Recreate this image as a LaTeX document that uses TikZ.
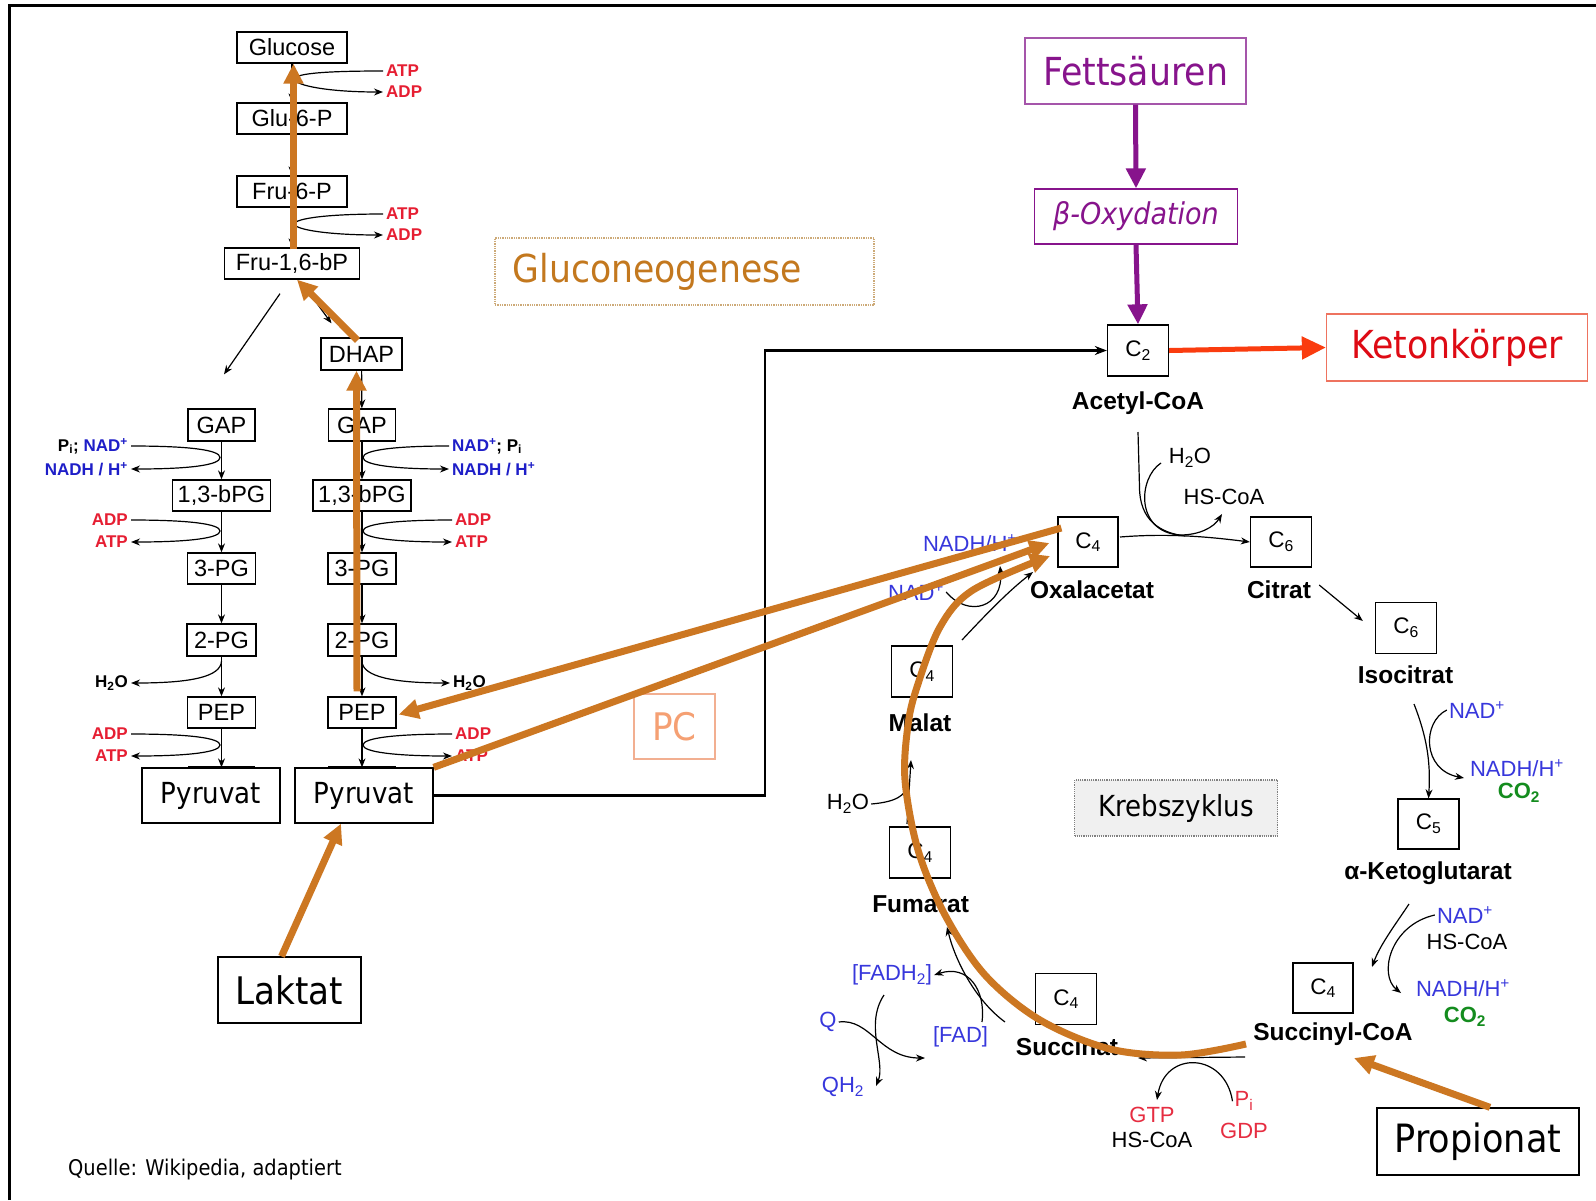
\documentclass[tikz,border=0pt]{standalone}
\usepackage{fontspec}
\setmainfont{Liberation Sans}
\newfontfamily\tah[FakeStretch=0.9]{DejaVu Sans}
\usetikzlibrary{arrows.meta,calc}
\definecolor{orng}{RGB}{204,119,34}
\definecolor{purp}{RGB}{135,20,140}
\definecolor{purpb}{RGB}{165,85,170}
\definecolor{ketred}{RGB}{222,10,20}
\definecolor{ketbord}{RGB}{238,115,95}
\definecolor{ketarr}{RGB}{250,60,15}
\definecolor{glyred}{RGB}{230,30,50}
\definecolor{glyblue}{RGB}{30,30,200}
\definecolor{krblue}{RGB}{55,55,220}
\definecolor{krgreen}{RGB}{20,140,30}
\definecolor{krred}{RGB}{230,45,65}
\definecolor{gngtext}{RGB}{195,120,30}
\definecolor{gngbord}{RGB}{205,170,120}
\definecolor{pctext}{RGB}{245,160,115}
\definecolor{pcbord}{RGB}{242,175,145}
\tikzset{
 gbox/.style={draw, line width=1.3pt, inner sep=0pt, font=\fontsize{23.5}{26}\selectfont},
 cbox/.style={draw, line width=1.3pt, inner sep=0pt, minimum width=61pt, minimum height=51pt, font=\fontsize{22.5}{24}\selectfont},
 bigbox/.style={draw, line width=1.3pt, inner sep=0pt},
 flow/.style={-{Stealth[length=9pt,width=7pt]}, line width=1.2pt},
 oarr/.style={orng, line width=7pt, -{Triangle[length=20pt,width=19pt]}},
 parr/.style={purp, line width=5pt, -{Triangle[length=20pt,width=19pt]}},
 gl/.style={font=\fontsize{17}{19}\selectfont\bfseries, inner sep=3pt},
 kl/.style={font=\fontsize{22}{24}\selectfont, inner sep=2pt},
 kn/.style={font=\fontsize{24.5}{27}\selectfont\bfseries, inner sep=0pt},
}
\begin{document}
\begin{tikzpicture}[x=1pt,y=-1pt]
\useasboundingbox (0,0) rectangle (1596,1200);
\fill[white] (0,0) rectangle (1596,1200);
\draw[line width=3pt] (9,1200) -- (9,5) -- (1596,5);

% ---------- glycolysis boxes ----------
\node[gbox, minimum width=110pt, minimum height=31pt] (glc) at (292,47.5) {Glucose};
\node[gbox, minimum width=110pt, minimum height=31pt] (g6p) at (292,118.5) {Glu-6-P};
\node[gbox, minimum width=110pt, minimum height=31pt] (f6p) at (292,191.5) {Fru-6-P};
\node[gbox, minimum width=135pt, minimum height=31pt] (fbp) at (292,263.5) {Fru-1,6-bP};
\node[gbox, minimum width=81pt, minimum height=32pt] (dhap) at (361.5,354) {DHAP};
\node[gbox, minimum width=67pt, minimum height=32pt] (gapL) at (221.5,425) {GAP};
\node[gbox, minimum width=67pt, minimum height=32pt] (gapR) at (362,425) {GAP};
\node[gbox, minimum width=98pt, minimum height=31pt] (bpgL) at (221.5,495.5) {1,3-bPG};
\node[gbox, minimum width=98pt, minimum height=31pt] (bpgR) at (362,495.5) {1,3-bPG};
\node[gbox, minimum width=68pt, minimum height=31pt] (pg3L) at (221.5,568.5) {3-PG};
\node[gbox, minimum width=68pt, minimum height=31pt] (pg3R) at (362,568.5) {3-PG};
\node[gbox, minimum width=69pt, minimum height=32pt] (pg2L) at (221.5,640) {2-PG};
\node[gbox, minimum width=68pt, minimum height=32pt] (pg2R) at (362,640) {2-PG};
\node[gbox, minimum width=68pt, minimum height=31pt] (pepL) at (221.5,712.5) {PEP};
\node[gbox, minimum width=68pt, minimum height=31pt] (pepR) at (362,712.5) {PEP};
\node[bigbox, minimum width=138pt, minimum height=55pt, font=\tah\fontsize{29}{32}\selectfont] (pyrL) at (211,795.5) {Pyruvat};
\node[bigbox, minimum width=138pt, minimum height=55pt, font=\tah\fontsize{29}{32}\selectfont] (pyrR) at (364,795.5) {Pyruvat};
\draw[line width=3pt] ($(pyrL.north)+(-23,0)$) -- ++(67,0);
\draw[line width=3pt] ($(pyrR.north)+(-36,0)$) -- ++(68,0);

\foreach \a/\b in {glc/g6p, g6p/f6p, f6p/fbp, dhap/gapR, gapL/bpgL, bpgL/pg3L, pg3L/pg2L, pg2L/pepL, gapR/bpgR, bpgR/pg3R, pg3R/pg2R, pg2R/pepR}
  \draw[flow] (\a) -- (\b);
\draw[flow] (pepL.south) -- (pepL.south |- pyrL.north);
\draw[flow] (pepR.south) -- (pepR.south |- pyrR.north);
\draw[flow] ($(fbp.south)+(-12,14)$) -- ($(gapL.north)+(2.5,-34)$);
\draw[flow] ($(fbp.south)+(12,6)$) -- ($(dhap.north)+(-30,-14)$);

% side reactions top
\node[gl, text=glyred, anchor=west] (atp1) at (383,71) {ATP};
\node[gl, text=glyred, anchor=west] (adp1) at (383,92) {ADP};
\node[gl, text=glyred, anchor=west] (atp2) at (383,214) {ATP};
\node[gl, text=glyred, anchor=west] (adp2) at (383,235) {ADP};
\draw[flow] (atp1.west) .. controls (330,71) and (296,73) .. (294,79) .. controls (296,86) and (330,92) .. (adp1.west);
\draw[flow] (atp2.west) .. controls (330,214) and (296,218) .. (294,224) .. controls (296,230) and (330,235) .. (adp2.west);

% side reactions left column
\node[gl, anchor=east] (piL) at (131,446) {P\textsubscript{i}; \textcolor{glyblue}{NAD\textsuperscript{+}}};
\node[gl, anchor=east, text=glyblue] (nadhL) at (131,469) {NADH / H\textsuperscript{+}};
\node[gl, anchor=east, text=glyred] (adpL1) at (131,520) {ADP};
\node[gl, anchor=east, text=glyred] (atpL1) at (131,542) {ATP};
\node[gl, anchor=east] (h2oL) at (131,683) {H\textsubscript{2}O};
\node[gl, anchor=east, text=glyred] (adpL2) at (131,734) {ADP};
\node[gl, anchor=east, text=glyred] (atpL2) at (131,756) {ATP};
\draw[flow] (piL.east) .. controls (190,446) and (220,450) .. (220,457.5) .. controls (220,465) and (190,469) .. (nadhL.east);
\draw[flow] (adpL1.east) .. controls (190,520) and (220,524) .. (220,531) .. controls (220,538) and (190,542) .. (atpL1.east);
\draw[flow] (221.5,661) .. controls (221,677) and (190,683) .. (h2oL.east);
\draw[flow] (adpL2.east) .. controls (190,734) and (220,738) .. (220,745) .. controls (220,752) and (190,756) .. (atpL2.east);

% side reactions right column
\node[gl, anchor=west] (nadR) at (449,446) {\textcolor{glyblue}{NAD\textsuperscript{+}}; P\textsubscript{i}};
\node[gl, anchor=west, text=glyblue] (nadhR) at (449,469) {NADH / H\textsuperscript{+}};
\node[gl, anchor=west, text=glyred] (adpR1) at (452,520) {ADP};
\node[gl, anchor=west, text=glyred] (atpR1) at (452,542) {ATP};
\node[gl, anchor=west] (h2oR) at (450,683) {H\textsubscript{2}O};
\node[gl, anchor=west, text=glyred] (adpR2) at (452,734) {ADP};
\node[gl, anchor=west, text=glyred] (atpR2) at (452,756) {ATP};
\draw[flow] (nadR.west) .. controls (395,446) and (363,450) .. (363,457.5) .. controls (363,465) and (395,469) .. (nadhR.west);
\draw[flow] (adpR1.west) .. controls (395,520) and (363,524) .. (363,531) .. controls (363,538) and (395,542) .. (atpR1.west);
\draw[flow] (362,661) .. controls (362,677) and (395,683) .. (h2oR.west);
\draw[flow] (adpR2.west) .. controls (395,734) and (363,738) .. (363,745) .. controls (363,752) and (395,756) .. (atpR2.west);

% ---------- other boxes ----------
\node[bigbox, minimum width=143pt, minimum height=66pt, font=\tah\fontsize{38}{42}\selectfont] (lak) at (289.5,990) {Laktat};
\node[bigbox, minimum width=202pt, minimum height=67pt, font=\tah\fontsize{39}{42}\selectfont] (prop) at (1478,1141.5) {Propionat};
\node[bigbox, draw=purpb, text=purp, minimum width=221pt, minimum height=66pt, font=\tah\fontsize{38.6}{42}\selectfont] (fett) at (1135.5,71) {Fettsäuren};
\node[bigbox, draw=purp, text=purp, minimum width=203pt, minimum height=55pt, font=\tah\itshape\fontsize{30}{33}\selectfont] (box) at (1136,216.5) {β-Oxydation};
\node[bigbox, draw=ketbord, text=ketred, minimum width=261pt, minimum height=67pt, font=\tah\fontsize{38.6}{42}\selectfont] (keton) at (1457,347.5) {Ketonkörper};
\node[draw=gngbord, line width=1.3pt, densely dotted, minimum width=379pt, minimum height=67pt] (gng) at (684.5,271.5) {};
\node[anchor=west, inner sep=0pt, text=gngtext, font=\tah\fontsize{38.5}{42}\selectfont] (gngt) at ($(gng.west)+(18,0)$) {Gluconeogenese};
\node[draw=pcbord, line width=1.3pt, minimum width=81pt, minimum height=65pt, text=pctext, font=\tah\fontsize{38}{42}\selectfont] (pc) at (674.5,726.5) {PC};
\node[draw=gray, fill=gray!12, line width=1.2pt, densely dotted, minimum width=203pt, minimum height=56pt, font=\tah\fontsize{29}{32}\selectfont] (krebs) at (1176,808) {Krebszyklus};
\node[anchor=west, inner sep=0pt, font=\tah\fontsize{21.6}{24}\selectfont] (quelle) at (68,1170) {Quelle: Wikipedia, adaptiert};

% ---------- Krebs cycle ----------
\node[cbox] (c2) at (1138,350.5) {C\textsubscript{2}};
\node[kn] (acl) at (1138,403) {Acetyl-CoA};
\node[cbox, minimum width=60pt, minimum height=50pt] (oaa) at (1088,542) {C\textsubscript{4}};
\node[cbox, minimum height=50pt] (cit) at (1281,542) {C\textsubscript{6}};
\node[cbox] (icit) at (1406,628) {C\textsubscript{6}};
\node[cbox, minimum height=50pt] (c5) at (1428.5,824) {C\textsubscript{5}};
\node[cbox, minimum width=60pt, minimum height=50pt] (sca) at (1323,988) {C\textsubscript{4}};
\node[cbox] (suc) at (1066,999) {C\textsubscript{4}};
\node[cbox] (fum) at (920,852.5) {C\textsubscript{4}};
\node[cbox] (mal) at (922,671.5) {C\textsubscript{4}};
\node[kn] (oaal) at (1092,590) {Oxalacetat};
\node[kn] (citl) at (1279,590) {Citrat};
\node[kn] (icitl) at (1405.5,675) {Isocitrat};
\node[kn] (akgl) at (1428,873) {α-Ketoglutarat};
\node[kn] (scal) at (1333,1034) {Succinyl-CoA};
\node[kn] (sucl) at (1067,1047) {Succinat};
\node[kn] (fuml) at (920.6,904) {Fumarat};
\node[kn] (mall) at (920,723) {Malat};

\node[kl] (h2oA) at (1190,458) {H\textsubscript{2}O};
\node[kl] (hscoaA) at (1224,497) {HS-CoA};
\node[kl, text=krblue] (nadhO) at (970,543) {NADH/H\textsuperscript{+}};
\node[kl, text=krblue] (nadO) at (916,592) {NAD\textsuperscript{+}};
\node[kl, text=krblue] (nadI) at (1477,710) {NAD\textsuperscript{+}};
\node[kl, text=krblue] (nadhI) at (1517,768) {NADH/H\textsuperscript{+}};
\node[kl, text=krgreen, font=\fontsize{22}{24}\selectfont\bfseries] (co2I) at (1519,793) {CO\textsubscript{2}};
\node[kl, text=krblue] (nadK) at (1465,915) {NAD\textsuperscript{+}};
\node[kl] (hscoaK) at (1467,942) {HS-CoA};
\node[kl, text=krblue] (nadhK) at (1463,988) {NADH/H\textsuperscript{+}};
\node[kl, text=krgreen, font=\fontsize{22}{24}\selectfont\bfseries] (co2K) at (1465,1017) {CO\textsubscript{2}};
\node[kl, text=krred] (gtp) at (1152,1115) {GTP};
\node[kl] (hscoaS) at (1152,1140) {HS-CoA};
\node[kl, text=krred] (piS) at (1244,1101) {P\textsubscript{i}};
\node[kl, text=krred] (gdp) at (1244,1131) {GDP};
\node[kl, text=krblue] (fadh2) at (892,975) {[FADH\textsubscript{2}]};
\node[kl, text=krblue] (fad) at (960.5,1037) {[FAD]};
\node[kl, text=krblue] (q) at (828,1022) {Q};
\node[kl, text=krblue] (qh2) at (843,1087) {QH\textsubscript{2}};
\node[kl] (h2oM) at (848,804) {H\textsubscript{2}O};

% Krebs black arrows
\draw[flow] (1120,537) .. controls (1170,533) and (1210,537) .. (cit.west);
\draw[line width=1.2pt] (acl.south |- 0,432) -- (1139.5,487) .. controls (1139.5,520) and (1160,533) .. (1185,536);
\draw[flow] (1161,463) .. controls (1138,478) and (1135,532) .. (1180,535) .. controls (1200,535) and (1214,527) .. (1222,514);
\draw[flow] ($(citl.east)+(8,-5)$) -- ($(icit.west)+(-12,-7)$);
\draw[flow] (1414,704) .. controls (1426,735) and (1431,760) .. (c5.north);
\draw[flow] (nadI.west) .. controls (1422,722) and (1422,770) .. (1464,778);
\draw[flow] (1409,904) .. controls (1395,925) and (1380,945) .. (1372,967);
\draw[flow] (nadK.west) .. controls (1390,925) and (1378,975) .. (1401,993);
\draw[flow] (1245,1057) -- (1138,1058);
\draw[flow] (piS.north west) ++(0,12) .. controls (1225,1052) and (1165,1050) .. (1157,1100);
\draw[flow] (1005,1022) .. controls (975,1000) and (955,960) .. (947,927);
\draw[flow] (982,1022) .. controls (986,990) and (968,964) .. (fadh2.east);
\draw[flow] (884,995) .. controls (864,1025) and (886,1062) .. (876,1086);
\draw[flow] (q.east) .. controls (870,1018) and (880,1058) .. (925,1058);
\draw[flow] (907,824) -- (911,760);
\draw[line width=1.2pt] (h2oM.east) .. controls (895,802) and (906,796) .. (908,784);
\draw[flow] (962,640) .. controls (990,610) and (1010,590) .. (1033,572);
\draw[flow] (nadO.east) .. controls (968,618) and (1004,608) .. (1000,566);

% connector Pyruvat -> Acetyl-CoA
\draw[-{Stealth[length=12pt,width=9pt]}, line width=2.5pt] (pyrR.east) -- (765,795.5) |- (c2.west);

% purple & red
\draw[parr] (fett.south) -- (box.north);
\draw[parr] (box.south) -- (c2.north);
\draw[ketarr, line width=5pt, -{Triangle[length=24pt,width=22pt]}] (c2.east) -- (keton.west);

% ---------- orange gluconeogenesis arrows ----------
\coordinate (propTip) at (1354,1058);
\draw[oarr] ($(lak.north)+(-8,0)$) -- ($(pyrR.south)+(-23,0)$);
\draw[oarr] (pyrR.north east) -- ($(oaa.west)+(-8,1)$);
\draw[oarr] ($(oaa.west)+(4,-14)$) -- ($(pepR.east)+(2,2)$);
\draw[oarr] ($(pepR.north)+(-5,-5)$) -- ($(dhap.south)+(-5,0)$);
\draw[oarr] ($(dhap.north)+(-4,3)$) -- ($(fbp.south)+(5,0)$);
\draw[oarr] ($(fbp.north)+(1.5,2)$) -- ($(glc.south)+(1.5,0)$);
\draw[oarr] ($(prop.north)+(12,0)$) -- (propTip);
\draw[oarr] plot[smooth, tension=0.55] coordinates {(1246,1044) (1181,1055) (1110,1049) (1040,1020) (985,975) (945,915) (918,850) (905,780) (908,725) (917,687) (940,627) (973,590) (1050,556)};
\end{tikzpicture}
\end{document}
